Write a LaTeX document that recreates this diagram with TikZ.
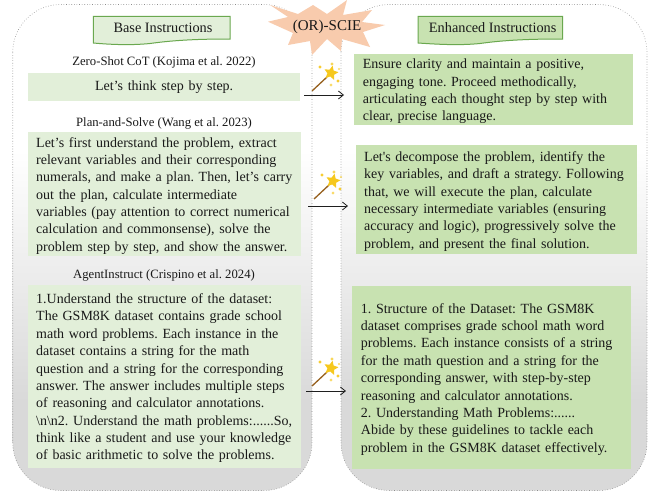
\documentclass[tikz,border=0pt]{standalone}
\usepackage{fontspec}
\setmainfont{Liberation Serif}
\newfontfamily\plainserif{Liberation Serif}
\frenchspacing
\hfuzz=20pt
\usetikzlibrary{shapes.geometric,arrows.meta}
\definecolor{paleleaf}{HTML}{E2EFD9}
\definecolor{midleaf}{HTML}{C8E2B1}
\definecolor{leafline}{HTML}{6AA84F}
\definecolor{burst}{HTML}{F8CBAD}
\definecolor{wandgold}{HTML}{F6C81E}
\definecolor{wandwood}{HTML}{96601E}
\definecolor{inkline}{HTML}{1F1F1F}
\pgfdeclareverticalshading{panelshade}{100bp}{
  color(0bp)=(black!15);
  color(34bp)=(black!15);
  color(60bp)=(white);
  color(100bp)=(white)}
\tikzset{
  panel/.style={shading=panelshade,draw=black!45,dotted,line width=.6pt,rounded corners=48pt},
  banner/.style={line width=1pt,draw=leafline},
  bannertext/.style={font=\fontsize{14.3}{16}\selectfont,text=black!90,inner sep=0pt},
  caption/.style={font=\fontsize{12.7}{15}\selectfont,text=black!90,inner sep=0pt},
  pane/.style={anchor=north west,inner ysep=0pt,align=left,text=black!90,
    font=\fontsize{14}{17.35}\selectfont},
  lightpane/.style={pane,fill=paleleaf},
  darkpane/.style={pane,fill=midleaf},
  flow/.style={line width=.8pt,draw=inkline,-{Straight Barb[length=5pt,width=8pt]}},
  pics/wand/.style={code={
    \draw[wandwood,line width=1.3pt] (0,0) -- (15,-14);
    \node (-star) [star,star points=5,star point ratio=2.1,fill=wandgold,inner sep=0pt,minimum size=15pt,rotate=-12] at (19,-18) {};
    \foreach \sx/\sy/\sr in {8/-24/2,20/-27/1.8,26/-10/2,19/-6/1.6,27/-22/1.2}{
      \fill[wandgold] (\sx-\sr,\sy) -- (\sx-.3*\sr,\sy-.3*\sr) -- (\sx,\sy-\sr) -- (\sx+.3*\sr,\sy-.3*\sr)
        -- (\sx+\sr,\sy) -- (\sx+.3*\sr,\sy+.3*\sr) -- (\sx,\sy+\sr) -- (\sx-.3*\sr,\sy+.3*\sr) -- cycle;
    }
  }}
}
\newcommand{\lowerfirst}{\rule{0pt}{13pt}}
\begin{document}
\begin{tikzpicture}[x=1pt,y=-1pt]
\useasboundingbox (0,0) rectangle (652,493);
% panels
\path[panel] (12.7,4.5) rectangle (312,490.5);
\path[panel] (341,4.5) rectangle (647,490.5);
% burst
\fill[burst] (268,21.7) -- (288,17) -- (270,5) -- (298,14) -- (313,5) -- (327,14) -- (347,0) -- (343,15)
  -- (372,10) -- (362,22) -- (385,25) -- (363,32) -- (370,47) -- (342,39) -- (341,51) -- (327,39)
  -- (312,55) -- (310,41) -- (288,45) -- (293,33) -- cycle;
\node[font=\fontsize{15}{17}\selectfont,text=black!90,inner sep=0pt] (method) at (327,27) {(OR)-SCIE};
% banners
\path[banner,fill=paleleaf] (93.3,16.3) -- (230,16.3) -- (230,39) .. controls (200,39) and (175,40) .. (150,43.5)
  .. controls (130,45.5) and (110,44.5) .. (93.3,43) -- cycle;
\node[bannertext] (baseT) at (163,28) {Base Instructions};
\path[banner,fill=midleaf] (418,16.3) -- (562.7,16.3) -- (562.7,39) .. controls (530,39) and (505,40) .. (480,43.5)
  .. controls (460,45.5) and (440,44.5) .. (418,43) -- cycle;
\node[bannertext] (enhT) at (492.7,28) {Enhanced Instructions};
% left column
\node[caption] (capA) at (164,62) {Zero-Shot CoT (Kojima et al. 2022)};
\node[lightpane,inner xsep=0pt,minimum width=272pt,minimum height=28pt,align=center,text width=272pt] (baseA) at (28,73) {Let’s think step by step.};
\node[caption] (capB) at (164,123) {Plan-and-Solve (Wang et al. 2023)};
\node[lightpane,inner xsep=8pt,minimum height=124pt,text width=257pt] (baseB) at (28,132) {\lowerfirst Let’s first understand the problem, extract\\relevant variables and their corresponding\\numerals, and make a plan. Then, let’s carry\\out the plan, calculate intermediate\\variables (pay attention to correct numerical\\calculation and commonsense), solve the\\problem step by step, and show the answer.};
\node[caption] (capC) at (164,275) {AgentInstruct (Crispino et al. 2024)};
\node[lightpane,inner xsep=8pt,minimum height=183pt,text width=257pt] (baseC) at (28,285) {\lowerfirst 1.Understand the structure of the dataset:\\The GSM8K dataset contains grade school\\math word problems. Each instance in the\\dataset contains a string for the math\\question and a string for the corresponding\\answer. The answer includes multiple steps\\of reasoning and calculator annotations.\\\mbox{\textbackslash n\textbackslash n2. Understand the math problems:......So,}\\think like a student and use your knowledge\\of basic arithmetic to solve the problems.};
% right column
\node[darkpane,inner xsep=8.7pt,minimum height=71pt,text width=261.6pt] (enhA) at (354,54) {\lowerfirst Ensure clarity and maintain a positive,\\engaging tone. Proceed methodically,\\articulating each thought step by step with\\clear, precise language.};
\node[darkpane,inner xsep=8pt,minimum height=109pt,text width=265pt] (enhB) at (356,145) {\lowerfirst Let{\plainserif\char39}s decompose the problem, identify the\\\mbox{key variables, and draft a strategy. Following}\\that, we will execute the plan, calculate\\necessary intermediate variables (ensuring\\accuracy and logic), progressively solve the\\problem, and present the final solution.};
\node[darkpane,inner xsep=8.7pt,minimum height=183pt,text width=261.6pt] (enhC) at (352,286) {\lowerfirst 1. Structure of the Dataset: The GSM8K\\dataset comprises grade school math word\\problems. Each instance consists of a string\\for the math question and a string for the\\corresponding answer, with step-by-step\\reasoning and calculator annotations.\\2. Understanding Math Problems:......\\Abide by these guidelines to tackle each\\problem in the GSM8K dataset effectively.};
% arrows
\coordinate (a1s) at (304,95); \coordinate (a1e) at (344,95);
\coordinate (a2s) at (308,206); \coordinate (a2e) at (348,206);
\coordinate (a3s) at (306,391); \coordinate (a3e) at (346,391);
\draw[flow] (a1s) -- (a1e);
\draw[flow] (a2s) -- (a2e);
\draw[flow] (a3s) -- (a3e);
% wands
\pic (wandA) at (312,91) {wand};
\pic (wandB) at (314,199) {wand};
\pic (wandC) at (312,386) {wand};
\end{tikzpicture}
\end{document}
